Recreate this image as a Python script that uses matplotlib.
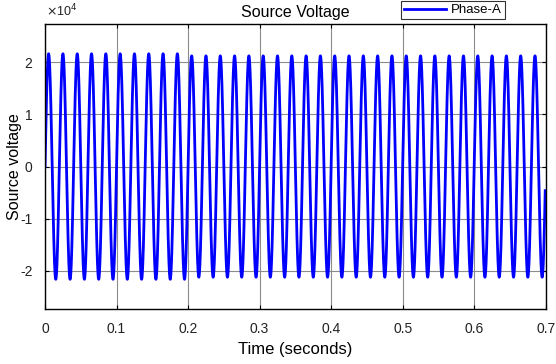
import numpy as np
import matplotlib
matplotlib.use("Agg")
import matplotlib.pyplot as plt

# Data
freq_hz = 50.0
t_end = 0.6993
# per-cycle peak amplitudes (V)
cycle_amp = [21600, 21600, 21600, 21600, 21600, 21600, 21600, 21600, 21600, 21600,
             21200, 21200, 21200, 21200, 21200, 21200, 21200, 21200, 21200, 21200,
             21200, 21200, 21200, 21200, 21200, 21200, 21200, 21200, 21200, 21200,
             21200, 21200, 21200, 21200, 21200]
xticks = [0, 0.1, 0.2, 0.3, 0.4, 0.5, 0.6, 0.7]
xtick_labels = ["0", "0.1", "0.2", "0.3", "0.4", "0.5", "0.6", "0.7"]
yticks = [-20000, -10000, 0, 10000, 20000]
ytick_labels = ["-2", "-1", "0", "1", "2"]

plt.rcParams['font.family'] = ['Liberation Sans', 'DejaVu Sans']

t = np.linspace(0, t_end, 20000)
idx = np.minimum((t * freq_hz).astype(int), len(cycle_amp) - 1)
amp = np.array(cycle_amp)[idx]
v = amp * np.sin(2 * np.pi * freq_hz * t)

fig = plt.figure(figsize=(5.56, 3.64), dpi=100)
ax = fig.add_axes([0.081, 0.151, 0.9005, 0.783])
ax.plot(t, v, color=(0, 0, 1), lw=2.0, label="Phase-A")
ax.set_xlim(0, 0.7)
ax.set_ylim(-27300, 27300)
ax.set_xticks(xticks)
ax.set_xticklabels(xtick_labels)
ax.set_yticks(yticks)
ax.set_yticklabels(ytick_labels)
ax.grid(True, color='#8c8c8c', lw=0.8)
ax.set_axisbelow(True)
ax.tick_params(direction='in', length=3, labelsize=10, top=True, right=True, pad=9,
               labelcolor='#222222')
for s in ax.spines.values():
    s.set_linewidth(1.0)
ax.set_xlabel("Time (seconds)", fontsize=12, labelpad=5)
ax.set_ylabel("Source voltage", fontsize=11.5)
ax.yaxis.set_label_coords(-0.047, 0.5)
ax.set_title("Source Voltage", fontsize=11.5, pad=5)
fig.text(0.083, 0.948, r"$\times$10$^{4}$", fontsize=9, ha='left', va='bottom',
         color='#222222')
leg = ax.legend(loc='lower left', bbox_to_anchor=(0.711, 1.018), fontsize=9.5,
                frameon=True, fancybox=False, edgecolor='black', handlelength=3.2,
                borderpad=0.2, handletextpad=0.4, borderaxespad=0)
leg.get_frame().set_linewidth(0.8)
fig.savefig("out.png", dpi=100)
